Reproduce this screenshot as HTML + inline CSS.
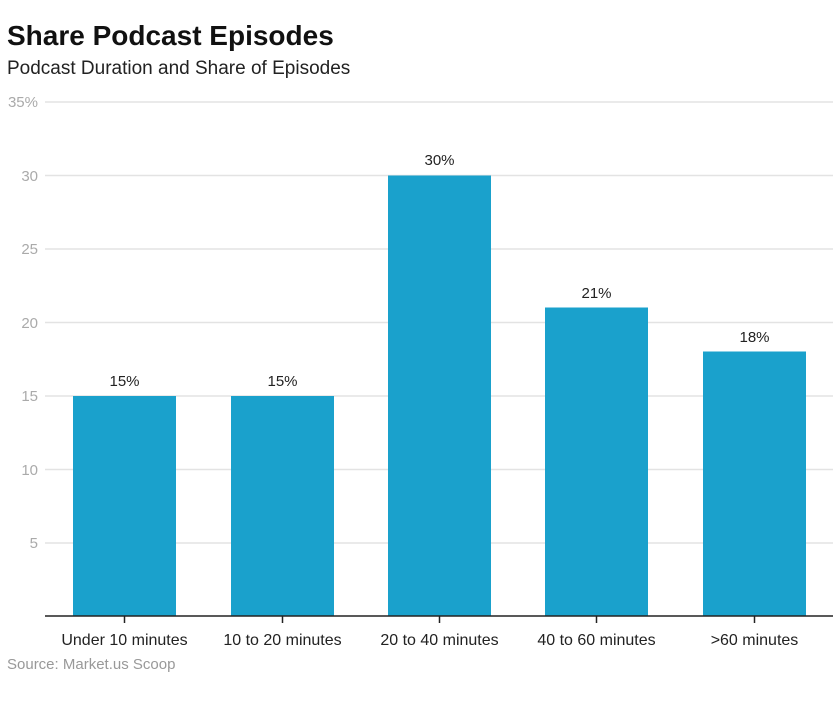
<!DOCTYPE html>
<html><head><meta charset="utf-8"><style>
body{margin:0;background:#fff;width:840px;height:702px;overflow:hidden;font-family:"Liberation Sans",sans-serif}
</style></head><body>
<svg width="840" height="702" xmlns="http://www.w3.org/2000/svg" font-family="Liberation Sans, sans-serif">
<text x="7" y="45" font-size="28" font-weight="bold" fill="#111">Share Podcast Episodes</text>
<text x="7" y="74" font-size="19" fill="#222">Podcast Duration and Share of Episodes</text>
<g stroke="#e3e3e3" stroke-width="1.5">
<line x1="45" x2="833" y1="102" y2="102"/><line x1="45" x2="833" y1="175.5" y2="175.5"/>
<line x1="45" x2="833" y1="249" y2="249"/><line x1="45" x2="833" y1="322.5" y2="322.5"/>
<line x1="45" x2="833" y1="396" y2="396"/><line x1="45" x2="833" y1="469.5" y2="469.5"/>
<line x1="45" x2="833" y1="543" y2="543"/>
</g>
<g font-size="15" fill="#aaa" text-anchor="end">
<text x="38" y="107">35%</text><text x="38" y="181">30</text><text x="38" y="254">25</text>
<text x="38" y="328">20</text><text x="38" y="401">15</text><text x="38" y="475">10</text><text x="38" y="548">5</text>
</g>
<g fill="#1aa1cc">
<rect x="73" y="396" width="103" height="220"/>
<rect x="231" y="396" width="103" height="220"/>
<rect x="388" y="175.5" width="103" height="440.5"/>
<rect x="545" y="307.5" width="103" height="308.5"/>
<rect x="703" y="351.5" width="103" height="264.5"/>
</g>
<g font-size="15" fill="#222" text-anchor="middle">
<text x="124.5" y="386">15%</text><text x="282.5" y="386">15%</text><text x="439.5" y="165">30%</text>
<text x="596.5" y="298">21%</text><text x="754.5" y="342">18%</text>
</g>
<line x1="45" x2="833" y1="616" y2="616" stroke="#222" stroke-width="1.5"/>
<g stroke="#222" stroke-width="1.5">
<line x1="124.5" x2="124.5" y1="616" y2="623"/><line x1="282.5" x2="282.5" y1="616" y2="623"/>
<line x1="439.5" x2="439.5" y1="616" y2="623"/><line x1="596.5" x2="596.5" y1="616" y2="623"/>
<line x1="754.5" x2="754.5" y1="616" y2="623"/>
</g>
<g font-size="16" fill="#222" text-anchor="middle">
<text x="124.5" y="645">Under 10 minutes</text><text x="282.5" y="645">10 to 20 minutes</text>
<text x="439.5" y="645">20 to 40 minutes</text><text x="596.5" y="645">40 to 60 minutes</text>
<text x="754.5" y="645">&gt;60 minutes</text>
</g>
<text x="7" y="669" font-size="15" fill="#999">Source: Market.us Scoop</text>
</svg>
</body></html>
